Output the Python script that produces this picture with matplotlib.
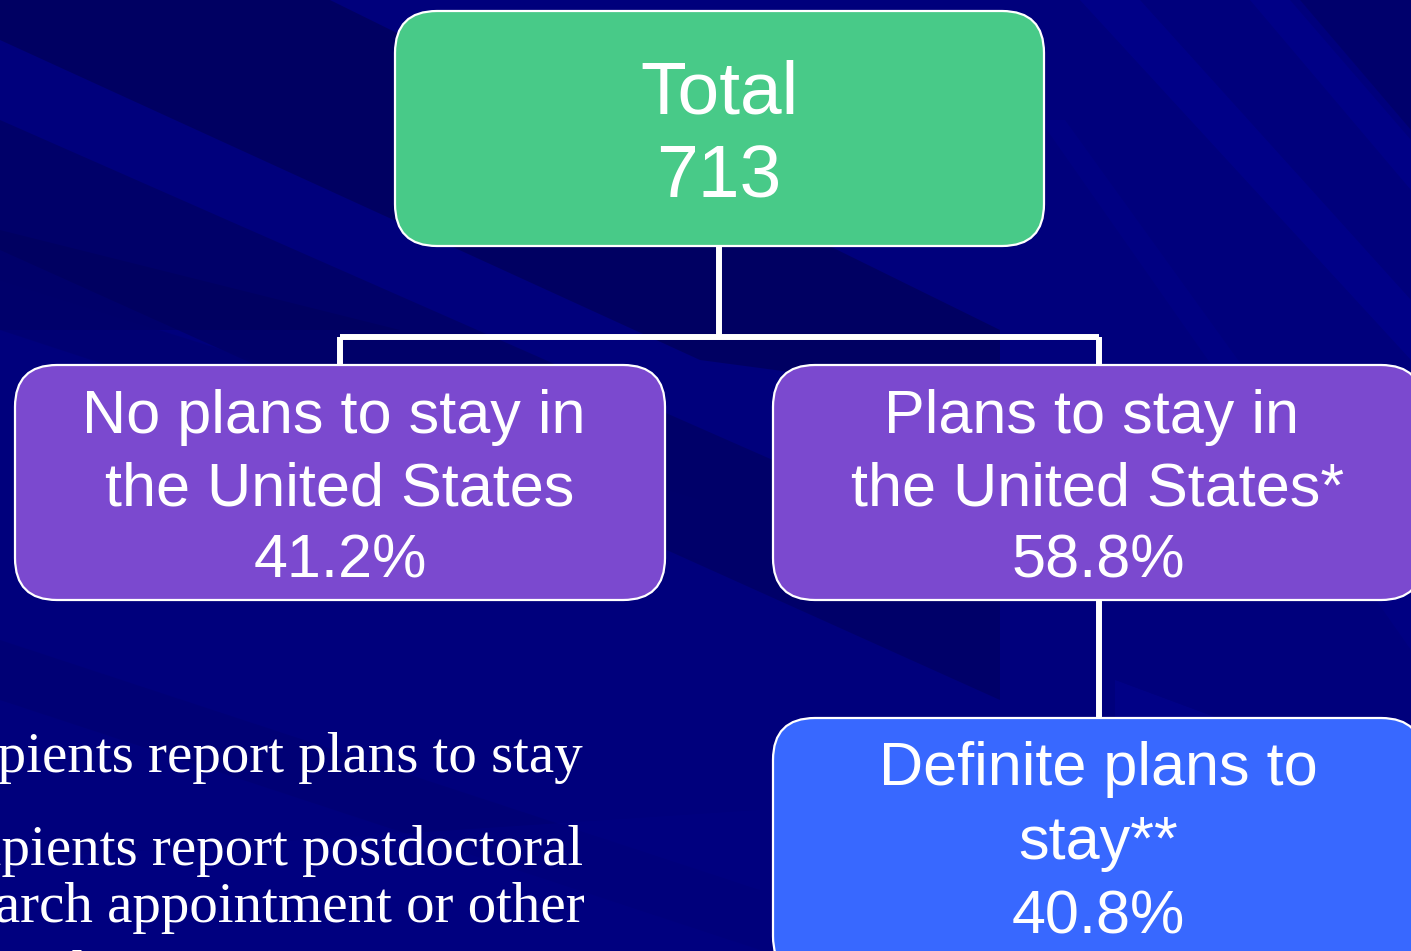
import matplotlib
matplotlib.use("Agg")
import matplotlib.pyplot as plt
from matplotlib.patches import FancyBboxPatch, Polygon

# ---- data ----
total_label = "Total"
total_count = 713
branch_titles = ["No plans to stay in\nthe United States", "Plans to stay in\nthe United States*"]
branch_shares = [41.2, 58.8]
sub_title = "Definite plans to\nstay**"
sub_share = 40.8
note_lines = ["58.8% of recipients report plans to stay",
              "40.8% of recipients report postdoctoral",
              "research appointment or other",
              "employment commitment"]

W, H = 1411, 951
fig = plt.figure(figsize=(W / 100, H / 100), dpi=100)
ax = fig.add_axes([0, 0, 1, 1])
ax.set_xlim(0, W)
ax.set_ylim(H, 0)
ax.axis("off")

# ---- background ----
base = "#00007c"
fig.patch.set_facecolor(base)
ax.add_patch(Polygon([[0, 0], [W, 0], [W, H], [0, H]], closed=True, color=base, zorder=0))
dark = "#00005a"
mid = "#00006c"
light = "#000096"
streaks = [
    ([[0, 0], [330, 0], [1000, 330], [1000, 400], [700, 360], [0, 40]], dark, 0.75),
    ([[0, 120], [0, 250], [1000, 700], [1000, 560]], dark, 0.55),
    ([[0, 230], [0, 330], [400, 330], [0, 230]], dark, 0.5),
    ([[0, 280], [0, 330], [700, 560], [700, 500]], mid, 0.5),
    ([[1080, 0], [1140, 0], [1411, 300], [1411, 360]], light, 0.45),
    ([[1250, 0], [1290, 0], [1411, 140], [1411, 190]], light, 0.4),
    ([[1300, 0], [1411, 0], [1411, 130]], dark, 0.45),
    ([[1040, 120], [1065, 120], [1411, 600], [1411, 650]], light, 0.25),
    ([[1115, 680], [1411, 790], [1411, 951], [1115, 951]], "#0606a0", 0.3),
    ([[0, 640], [0, 700], [760, 950], [760, 890]], mid, 0.4),
    ([[0, 860], [760, 810], [760, 951], [0, 951]], "#000086", 0.4),
]
for pts, col, a in streaks:
    ax.add_patch(Polygon(pts, closed=True, color=col, alpha=a, lw=0, zorder=1))

# ---- connectors ----
lc = dict(color="white", lw=4.3, solid_capstyle="butt", zorder=2)
ax.plot([719, 719], [246, 337], **lc)
ax.plot([340, 1099], [337, 337], **lc)
ax.plot([340, 340], [337, 365], **lc)
ax.plot([1099, 1099], [337, 365], **lc)
ax.plot([1099, 1099], [600, 718], **lc)

# ---- boxes ----
def box(x0, y0, w, h, fc):
    p = FancyBboxPatch((x0, y0), w, h, boxstyle="round,pad=0,rounding_size=42",
                       fc=fc, ec="white", lw=1.6, zorder=3)
    ax.add_patch(p)

green, purple, blue = "#48ca88", "#7b49cf", "#3868ff"
box(395, 11, 649, 235, green)
box(15, 365, 650, 235, purple)
box(773, 365, 650, 235, purple)
box(773, 718, 650, 260, blue)

font = "Liberation Sans"
tk = dict(color="white", ha="center", va="baseline", family=font, zorder=4)

ax.text(719, 113, total_label, fontsize=54, **tk)
ax.text(719, 197, f"{total_count}", fontsize=54, **tk)

for cx, title, share in zip([334, 1092], branch_titles, branch_shares):
    l1, l2 = title.split("\n")
    ax.text(cx, 433, l1, fontsize=44, **tk)
    ax.text(cx + 6, 505, l2, fontsize=44, **tk)
    ax.text(cx + 6, 578, f"{share:.1f}%", fontsize=44, **tk)

s1, s2 = sub_title.split("\n")
ax.text(1098, 785, s1, fontsize=44, **tk)
ax.text(1098, 859, s2, fontsize=44, **tk)
ax.text(1098, 933, f"{sub_share:.1f}%", fontsize=44, **tk)

# ---- clipped note text at bottom left ----
nk = dict(color="white", ha="right", va="baseline", family="Liberation Serif", fontsize=41, zorder=4)
ax.text(583, 772, note_lines[0], **nk)
ax.text(583, 865, note_lines[1], **nk)
ax.text(585, 922, note_lines[2], **nk)
ax.text(560, 990, note_lines[3], **nk)

fig.savefig("out.png", dpi=100, facecolor=fig.get_facecolor())
